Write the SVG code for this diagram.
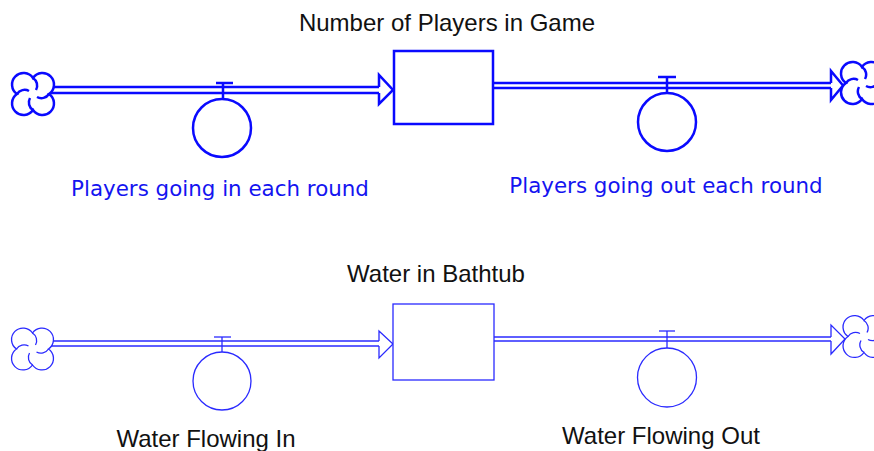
<svg xmlns="http://www.w3.org/2000/svg" width="874" height="451" viewBox="0 0 874 451">
  <style>
    .thick { stroke: #0a0aff; stroke-width: 2.5; fill: none; }
    .thin { stroke: #2a2aff; stroke-width: 1.3; fill: none; }
    .fillw { fill: #ffffff; }
    .title { font-family: "Liberation Sans", Arial, sans-serif; font-size: 24px; fill: #111111; }
    .rate { font-family: "DejaVu Sans", Verdana, sans-serif; font-size: 21.4px; fill: #1414f0; }
  </style>
  <defs>
    <!-- four-lobed cloud (source / sink), centred on 0,0 -->
    <g id="cloud">
      <path d="M0,-16 A11.5,11.5 0 1 0 -16,0 A11.5,11.5 0 1 0 0,16 A11.5,11.5 0 1 0 16,0 A11.5,11.5 0 1 0 0,-16 Z" class="fillw"/>
      <path d="M0,-16 A9,9 0 0 1 3,-4 M-16,0 A9,9 0 0 1 -4,-3 M0,16 A9,9 0 0 1 -3,4 M16,0 A9,9 0 0 1 4,3"/>
    </g>
  </defs>

  <g id="connectors">
    <!-- upper model: inflow pipe -->
    <g class="thick">
      <line x1="51" y1="87" x2="380" y2="87"/>
      <line x1="51" y1="93" x2="380" y2="93"/>
      <path d="M379,87 V75 L393,90 L379,104 V93" class="fillw"/>
      <!-- outflow pipe -->
      <line x1="494" y1="83" x2="832" y2="83"/>
      <line x1="494" y1="88" x2="832" y2="88"/>
      <path d="M831,83 V71 L843,85.5 L831,100 V88" class="fillw"/>
    </g>
    <!-- lower model -->
    <g class="thin">
      <line x1="51" y1="341" x2="380" y2="341"/>
      <line x1="51" y1="346" x2="380" y2="346"/>
      <path d="M379,341 V331 L393,344 L379,358 V346" class="fillw"/>
      <line x1="494" y1="337" x2="832" y2="337"/>
      <line x1="494" y1="341" x2="832" y2="341"/>
      <path d="M831,337 V325 L845,339 L831,354 V341" class="fillw"/>
    </g>
  </g>

  <!-- upper model: Number of Players in Game -->
  <g id="source-players" class="thick">
    <use href="#cloud" transform="translate(33,94)"/>
  </g>
  <g id="sink-players" class="thick">
    <use href="#cloud" transform="translate(862,83)"/>
  </g>
  <g id="stock-players">
    <rect x="394" y="51" width="99" height="73" class="thick fillw"/>
    <text class="title" x="447" y="31" text-anchor="middle">Number of Players in Game</text>
  </g>
  <g id="rate-players-in">
    <g class="thick">
      <line x1="216" y1="83" x2="233" y2="83"/>
      <line x1="223" y1="83" x2="223" y2="99"/>
      <circle cx="222" cy="128" r="29" class="fillw"/>
    </g>
    <text class="rate" x="220" y="196" text-anchor="middle">Players going in each round</text>
  </g>
  <g id="rate-players-out">
    <g class="thick">
      <line x1="658" y1="77" x2="676" y2="77"/>
      <line x1="667" y1="77" x2="667" y2="93"/>
      <circle cx="667" cy="122" r="29" class="fillw"/>
    </g>
    <text class="rate" x="666" y="193" text-anchor="middle">Players going out each round</text>
  </g>

  <!-- lower model: Water in Bathtub -->
  <g id="source-water" class="thin">
    <use href="#cloud" transform="translate(32.5,349)"/>
  </g>
  <g id="sink-water" class="thin">
    <use href="#cloud" transform="translate(864,336.5)"/>
  </g>
  <g id="stock-water">
    <rect x="393" y="304" width="101" height="76" class="thin fillw"/>
    <text class="title" x="436" y="282" text-anchor="middle">Water in Bathtub</text>
  </g>
  <g id="rate-water-in">
    <g class="thin">
      <line x1="214" y1="337" x2="231" y2="337"/>
      <line x1="222" y1="337" x2="222" y2="352"/>
      <circle cx="222" cy="381" r="29" class="fillw"/>
    </g>
    <text class="title" x="206" y="447" text-anchor="middle">Water Flowing In</text>
  </g>
  <g id="rate-water-out">
    <g class="thin">
      <line x1="659" y1="331" x2="675" y2="331"/>
      <line x1="667" y1="331" x2="667" y2="348"/>
      <circle cx="667" cy="377.5" r="29.5" class="fillw"/>
    </g>
    <text class="title" x="661" y="444" text-anchor="middle">Water Flowing Out</text>
  </g>
</svg>
